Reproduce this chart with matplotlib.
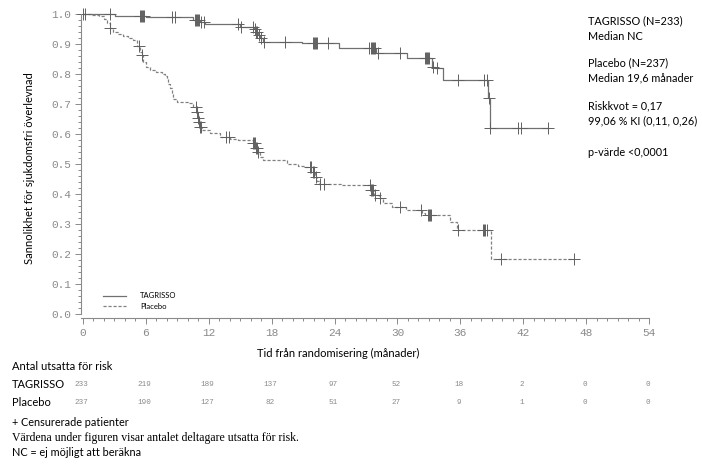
import numpy as np
import matplotlib
matplotlib.use("Agg")
import matplotlib.pyplot as plt
import matplotlib.transforms as mtransforms

# data
tag_t = [0, 3.05, 6.0, 10.5, 11.2, 11.6, 15.0, 16.3, 16.5, 16.7, 16.9, 17.2, 20.9,
         24.4, 28.0, 30.9, 33.3, 33.6, 34.3, 38.6, 38.8]
tag_s = [1.0, 0.994, 0.991, 0.980, 0.975, 0.967, 0.958, 0.950, 0.940, 0.930, 0.920,
         0.908, 0.902, 0.886, 0.869, 0.852, 0.824, 0.819, 0.780, 0.719, 0.619]
tag_end = 44.4
tag_cens = [0.0, 0.15, 2.6, 5.4, 5.5, 5.6, 5.7, 5.8, 8.5, 8.8, 10.7, 10.8, 10.9, 11.0,
            11.1, 11.3, 11.5, 14.8, 15.1, 16.2, 16.4, 16.5, 16.6, 16.8, 17.0, 17.3,
            19.3, 21.9, 22.0, 22.1, 22.2, 22.3, 23.4, 27.3, 27.5, 27.6, 27.7, 27.8,
            27.9, 28.1, 30.2, 32.6, 32.7, 32.8, 32.9, 33.0, 33.4, 33.8, 35.8, 38.3,
            38.5, 38.7, 38.8, 41.5, 41.8, 44.4]

pla_t = [0, 0.8, 1.5, 2.0, 2.3, 2.6, 2.9, 3.3, 3.8, 4.3, 4.8, 5.2, 5.45, 5.6, 5.75,
         6.0, 6.4, 7.0, 7.5, 7.8, 8.0, 8.15, 8.3, 8.45, 8.6, 9.0, 10.0, 10.5, 10.85,
         10.95, 11.05, 11.2, 11.4, 12.1, 13.1, 14.0, 14.8, 16.2, 16.5, 16.7, 16.9, 17.2,
         18.0, 19.5, 20.5, 21.2, 21.9, 22.1, 22.3, 22.5, 24.6, 27.5, 27.8, 28.2, 28.6,
         29.5, 30.8, 32.3, 32.6, 35.0, 35.7, 38.9]
pla_s = [1.0, 0.996, 0.992, 0.983, 0.970, 0.955, 0.940, 0.933, 0.927, 0.920, 0.912,
         0.895, 0.875, 0.862, 0.840, 0.825, 0.813, 0.806, 0.800, 0.792, 0.782, 0.768,
         0.752, 0.735, 0.716, 0.708, 0.702, 0.691, 0.675, 0.655, 0.640, 0.625, 0.613,
         0.602, 0.591, 0.585, 0.580, 0.570, 0.555, 0.540, 0.525, 0.515, 0.512,
         0.500, 0.495, 0.490, 0.475, 0.458, 0.443, 0.433, 0.430, 0.415, 0.398, 0.386,
         0.370, 0.358, 0.347, 0.336, 0.330, 0.308, 0.280, 0.183]
pla_end = 46.8
pla_cens = [2.6, 5.3, 5.6, 10.8, 10.9, 11.0, 11.1, 11.2, 11.3, 13.6, 13.9, 16.2, 16.3,
            16.4, 16.5, 16.6, 16.7, 21.7, 21.8, 21.9, 22.0, 22.2, 22.6, 23.0, 27.4,
            27.5, 27.6, 27.7, 27.9, 28.3, 30.2, 32.2, 32.9, 33.0, 33.1, 33.2, 35.8,
            38.2, 38.3, 38.4, 38.5, 39.9, 46.8]

risk_times = [0, 6, 12, 18, 24, 30, 36, 42, 48, 54]
risk_tag = [233, 219, 189, 137, 97, 52, 18, 2, 0, 0]
risk_pla = [237, 190, 127, 82, 51, 27, 9, 1, 0, 0]

info_lines = ["TAGRISSO (N=233)", "Median NC",
              "Placebo (N=237)", "Median 19,6 månader",
              "Riskkvot = 0,17", "99,06 % KI (0,11, 0,26)",
              "p-värde <0,0001"]
info_y = [21, 36, 63, 78, 106, 121, 153]  # pixel rows from the top


def surv_at(times, surv, t):
    idx = np.searchsorted(times, t, side="right") - 1
    return np.array(surv)[idx]


sans = ["Lato", "DejaVu Sans"]
mono = ["Liberation Mono", "DejaVu Sans Mono"]
tick_grey = "#8a8a8a"

fig = plt.figure(figsize=(7.02, 4.66), dpi=100)
ax = fig.add_axes([81/702, 1 - 318/466, (649 - 81)/702, (318 - 14)/466])

# curves
ax.plot(tag_t + [tag_end], tag_s + [tag_s[-1]], drawstyle="steps-post",
        color="#707070", lw=0.9, clip_on=False, label="TAGRISSO")
ax.plot(pla_t + [pla_end], pla_s + [pla_s[-1]], drawstyle="steps-post",
        color="#808080", lw=0.9, ls=(0, (2.5, 1.5)), clip_on=False, label="Placebo")

ax.plot(tag_cens, surv_at(tag_t, tag_s, tag_cens), ls="none", marker="+",
        ms=8, mew=0.7, color="#606060", clip_on=False)
ax.plot(pla_cens, surv_at(pla_t, pla_s, pla_cens), ls="none", marker="+",
        ms=8, mew=0.7, color="#606060", clip_on=False)

ax.set_xlim(-0.19, 54)
ax.set_ylim(-0.0133, 1.0)
ax.set_xticks(np.arange(0, 55, 6))
ax.set_xticks(np.arange(0, 55, 1), minor=True)
ax.set_yticks(np.arange(0, 1.01, 0.1))
ax.set_yticks(np.arange(0, 1.001, 0.02), minor=True)
ax.set_yticklabels([f"{v:.1f}" for v in np.arange(0, 1.01, 0.1)])
for s in ["top", "right"]:
    ax.spines[s].set_visible(False)
for s in ["left", "bottom"]:
    ax.spines[s].set_color(tick_grey)
    ax.spines[s].set_linewidth(0.8)
ax.spines["left"].set_bounds(0, 1.0)
ax.tick_params(which="both", direction="out", color=tick_grey, width=0.7)
ax.tick_params(which="major", length=4, labelsize=8, labelcolor=tick_grey)
ax.tick_params(axis="x", which="major", pad=3)
ax.tick_params(axis="y", which="major", pad=3)
ax.tick_params(which="minor", length=2)
for lab in ax.get_xticklabels() + ax.get_yticklabels():
    lab.set_family(mono)

leg = ax.legend(loc="center left", bbox_to_anchor=(0.033, 0.056), frameon=False,
                prop={"family": sans, "size": 5.5}, handlelength=3.1,
                handletextpad=1.8, labelspacing=0.45, borderaxespad=0)

ax.set_ylabel("Sannolikhet för sjukdomsfri överlevnad", family=sans, fontsize=8)
ax.yaxis.set_label_coords(-0.081, 0.493)
fig.text(338/702, 1 - 353/466, "Tid från randomisering (månader)", family=sans,
         fontsize=8, ha="center", va="center")

# info block on the right
for line, yp in zip(info_lines, info_y):
    fig.text(588/702, 1 - yp/466, line, family=sans, fontsize=7.8,
             va="center", ha="left")

# number at risk table
trans = mtransforms.blended_transform_factory(ax.transData, fig.transFigure)
fig.text(12/702, 1 - 367/466, "Antal utsatta för risk", family=sans, fontsize=8,
         va="center")
fig.text(12/702, 1 - 385/466, "TAGRISSO", family=sans, fontsize=8, va="center")
fig.text(12/702, 1 - 403/466, "Placebo", family=sans, fontsize=8, va="center")
for t, a, b in zip(risk_times, risk_tag, risk_pla):
    ax.text(t - 0.15, 1 - 385/466, str(a), transform=trans, family=mono, fontsize=5.5,
            color=tick_grey, ha="center", va="center")
    ax.text(t - 0.15, 1 - 403/466, str(b), transform=trans, family=mono, fontsize=5.5,
            color=tick_grey, ha="center", va="center")

# footnotes
fig.text(12/702, 1 - 423/466, "+ Censurerade patienter", family=sans, fontsize=7.8,
         va="center")
fig.text(12/702, 1 - 438/466, "Värdena under figuren visar antalet deltagare utsatta för risk.",
         family=["Liberation Serif", "DejaVu Serif"], fontsize=8.5, va="center")
fig.text(12/702, 1 - 452/466, "NC = ej möjligt att beräkna", family=sans, fontsize=7.8,
         va="center")

plt.savefig("out.png", dpi=100, facecolor="white")
